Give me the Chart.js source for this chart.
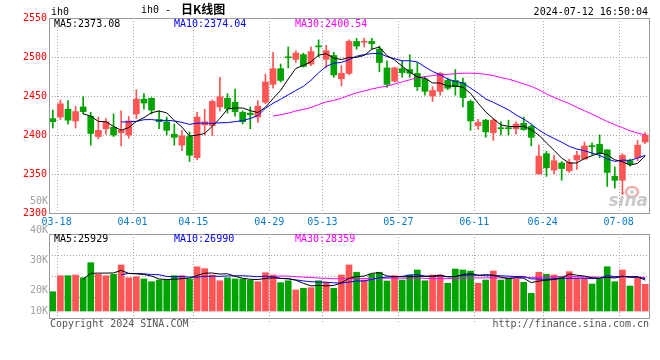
<!DOCTYPE html>
<html><head><meta charset="utf-8">
<script src="https://cdn.jsdelivr.net/npm/chart.js@4.4.1/dist/chart.umd.min.js"></script>
<style>
html,body{margin:0;padding:0;background:#fff;width:660px;height:360px;overflow:hidden}
#pc{position:absolute;left:0;top:0}
#vc{position:absolute;left:0;top:190px}
</style></head><body>
<canvas id="pc" width="660" height="232"></canvas>
<canvas id="vc" width="660" height="170"></canvas>
<script>
// ---------------- data ----------------
const dates = ['03-18','03-19','03-20','03-21','03-22','03-25','03-26','03-27','03-28','03-29',
'04-01','04-02','04-03','04-08','04-09','04-10','04-11','04-12',
'04-15','04-16','04-17','04-18','04-19','04-22','04-23','04-24','04-25','04-26','04-29','04-30',
'05-06','05-07','05-08','05-09','05-10','05-13','05-14','05-15','05-16','05-17','05-20','05-21','05-22','05-23','05-24','05-27','05-28','05-29','05-30','05-31',
'06-03','06-04','06-05','06-06','06-07','06-11','06-12','06-13','06-14','06-17','06-18','06-19','06-20','06-21','06-24','06-25','06-26','06-27','06-28',
'07-01','07-02','07-03','07-04','07-05','07-08','07-09','07-10','07-11','07-12'];
const opens = [2421,2423,2433,2418,2436,2424,2398,2408,2410,2403, 2400,2427,2446,2447,2420,2417,2401,2387,2398,2371,
2413,2412,2436,2447,2442,2429,2428,2423,2442,2465, 2485,2500,2497,2503,2491,2513.5,2497,2502,2472,2479,
2520,2519,2520,2510,2486,2469,2485,2484,2479,2472, 2450,2456,2470,2470,2467,2443,2412,2419,2403,2409,
2408.5,2408,2415,2411,2350,2376,2355,2364,2354,2368, 2369,2385.5,2388,2381,2347,2342,2367,2371,2391];
const highs = [2432,2445,2444,2437,2449,2429,2423,2421,2427,2431, 2424,2458,2453,2448,2431,2423,2414,2406,2404,2429,
2433,2445,2474,2453,2459,2431,2436,2444,2478,2506, 2491,2513,2508,2505,2513,2522,2515,2506,2489,2522,
2524,2524,2524,2514,2495,2487,2495,2503,2493,2475, 2462,2480,2473,2484,2473,2445,2420,2420,2421,2417,
2419,2417,2423,2413,2387,2379,2374,2366,2369,2379, 2391,2390,2400,2381,2359,2376,2369,2393,2403];
const lows = [2409,2420,2414,2409,2427,2387,2395,2401,2398,2386, 2396,2421,2433,2427,2408,2400,2387,2380,2366,2368,
2400,2399,2431,2428,2424,2414,2408,2416,2440,2460, 2468,2486,2493,2487,2489,2500,2486,2474,2463,2477,
2510,2513,2510,2481,2461,2468,2474,2474,2457,2451, 2443,2451,2458,2451,2436,2406,2407,2397,2393,2400,
2400,2401,2406,2386,2350,2347,2350,2342,2352,2356, 2369,2374,2371,2334,2332,2324,2360,2367,2389];
const closes = [2417,2440,2419,2430,2430,2402,2406,2417,2400,2406, 2418,2446,2441,2432,2417,2406,2397,2399,2374,2423,
2417,2443,2449,2434,2430,2417,2426,2437,2468,2485, 2470,2499,2505,2488,2507,2513,2508,2477,2479,2520,
2514,2520,2517,2493,2465,2486,2480,2479,2462,2456, 2457,2479,2460,2462,2448,2418,2416,2404,2419,2408,
2408,2414,2407,2397,2373,2358,2367,2357,2365,2374, 2386,2385,2376,2352,2342,2374,2363,2387,2400];
const volumes = [16100,29500,29500,30100,27800,40400,30700,29500,30700,38500, 27800,28700,26800,24500,25900,25900,29500,29500,26800,37000,
35400,30100,25300,27800,26800,26800,25900,24500,32000,30100, 23700,25300,17600,19000,19500,25300,24000,19000,30100,38500,
32400,25900,30700,32400,25100,29500,25900,30100,34300,25300, 30100,30100,23200,35100,34300,33400,23200,25900,33400,25900,
27300,26800,24000,14800,32400,30700,30100,28700,32900,27300, 27300,22600,26500,37000,24500,34300,20900,27300,22300];
const tickLabels = ['03-18','04-01','04-15','04-29','05-13','05-27','06-11','06-24','07-08'];
const priceTicks = [2300,2350,2400,2450,2500,2550];
const volTickLabels = ['50K','40K','30K','20K','10K'];
const maPeriods = [5,10,30];
const priceMALast = [2373.08, 2374.04, 2400.54];
const volMALast = [25929, 26990, 28359];
const symbol = 'ih0';
const titleCode = 'ih0 -';
const titleText = '日K线图';
const stamp = '2024-07-12 16:50:04';
const copyright = 'Copyright 2024 SINA.COM';
const siteUrl = 'http://finance.sina.com.cn';
const watermark = 'sina';

// ---------------- styles ----------------
const FONT = "'DejaVu Sans Mono','Liberation Mono',monospace";
const UP = '#ff5555', DOWN = '#00a300';
const MA_COLORS = ['#000000','#0000ff','#ff00ff'];
const GRID = '#a8a8a8', BORDER = '#999999';
const tickIdx = tickLabels.map(t => dates.indexOf(t));
const isUp = closes.map((c,i) => c >= opens[i]);
const barColors = isUp.map(u => u ? UP : DOWN);

function movingAverage(arr, n){
  return arr.map((_, i) => i < n-1 ? null : arr.slice(i-n+1, i+1).reduce((a,b)=>a+b,0)/n);
}
function seg(ctx,x1,y1,x2,y2){ctx.beginPath();ctx.moveTo(x1,y1);ctx.lineTo(x2,y2);ctx.stroke();}
function maLine(values, color){
  return {type:'line', data: values.map((v,i)=>({x:i,y:v})), borderColor:color, borderWidth:1,
    pointRadius:0, fill:false, tension:0, spanGaps:false};
}
const xScaleBase = {type:'linear', min:-0.5, max:dates.length-0.5, offset:false};

// ---------------- price chart ----------------
const pricePanel = {
  id:'pricePanel',
  beforeDatasetsDraw(chart){
    const {ctx, chartArea:a, scales:{x,y}} = chart;
    ctx.save();
    // watermark logo + text
    ctx.strokeStyle='rgba(235,150,150,0.75)'; ctx.lineWidth=2.5;
    ctx.beginPath(); ctx.ellipse(a.right-17, a.bottom-21, 6, 5, 0, 0, Math.PI*2); ctx.stroke();
    ctx.fillStyle='rgba(190,190,190,0.8)';
    ctx.beginPath(); ctx.arc(a.right-17, a.bottom-21, 2, 0, Math.PI*2); ctx.fill();
    ctx.font = "italic bold 17px 'DejaVu Sans',sans-serif";
    ctx.fillStyle = 'rgba(195,195,195,0.9)'; ctx.textAlign='right'; ctx.textBaseline='alphabetic';
    ctx.fillText(watermark, a.right-1, a.bottom-7);
    ctx.strokeStyle = GRID; ctx.lineWidth = 1; ctx.setLineDash([1,2]);
    priceTicks.slice(1,-1).forEach(v => { const py = Math.round(y.getPixelForValue(v))+0.5; seg(ctx,a.left,py,a.right,py); });
    tickIdx.forEach(k => { const px = Math.round(x.getPixelForValue(k+0.5))+0.5; seg(ctx,px,a.top,px,a.bottom); });
    ctx.restore();
  },
  afterDraw(chart){
    const {ctx, chartArea:a} = chart;
    ctx.save();
    ctx.strokeStyle = BORDER; ctx.lineWidth = 1;
    ctx.strokeRect(Math.round(a.left)+0.5, Math.round(a.top)+0.5, Math.round(a.right-a.left), Math.round(a.bottom-a.top));
    ctx.font = '10px '+FONT; ctx.textBaseline='middle'; ctx.textAlign='left';
    const lx = [a.left+5, a.left+125, a.left+246];
    maPeriods.forEach((n,i) => { ctx.fillStyle = MA_COLORS[i]; ctx.fillText('MA'+n+':'+priceMALast[i].toFixed(2), lx[i], a.top+6); });
    ctx.fillStyle = '#000';
    ctx.fillText(symbol, a.left+2, 12);
    ctx.fillText(titleCode, 141, 10);
    ctx.font = "bold 12px 'Noto Sans CJK SC',sans-serif";
    ctx.fillText(titleText, 181, 9);
    ctx.font = '10px '+FONT; ctx.textAlign='right';
    ctx.fillText(stamp, a.right-1, 12);
    ctx.restore();
  }
};

new Chart(document.getElementById('pc'), {
  type:'bar',
  data:{datasets:[
    maLine(movingAverage(closes,5), MA_COLORS[0]),
    maLine(movingAverage(closes,10), MA_COLORS[1]),
    maLine(movingAverage(closes,30), MA_COLORS[2]),
    {data: dates.map((d,i)=>({x:i, y:[opens[i], closes[i]]})), backgroundColor:barColors,
     barThickness:6, minBarLength:1, grouped:false, borderWidth:0},
    {data: dates.map((d,i)=>({x:i, y:[lows[i], highs[i]]})), backgroundColor:barColors,
     barThickness:1, grouped:false, borderWidth:0}
  ]},
  options:{
    responsive:false, animation:false, devicePixelRatio:1, events:[],
    layout:{padding:{top:18, right:11, left:0, bottom:0}},
    plugins:{legend:{display:false}, tooltip:{enabled:false}},
    scales:{
      x:Object.assign({}, xScaleBase, {
        grid:{display:false, drawTicks:false}, border:{display:false},
        afterBuildTicks(s){ s.ticks = tickIdx.map(k=>({value:k+0.5})); },
        afterFit(s){ s.height = 19; },
        ticks:{autoSkip:false, maxRotation:0, padding:3, color:'#0a7ad2', font:{family:FONT, size:10},
          callback:(v,i)=>tickLabels[i]}
      }),
      y:{type:'linear', min:priceTicks[0], max:priceTicks[priceTicks.length-1],
        grid:{display:false, drawTicks:false}, border:{display:false},
        afterBuildTicks(s){ s.ticks = priceTicks.map(v=>({value:v})); },
        afterFit(s){ s.width = 49; },
        ticks:{padding:2, color:'#ff0000', font:{family:FONT, size:10}, callback:v=>String(v)}
      }
    }
  },
  plugins:[pricePanel]
});

// ---------------- volume chart ----------------
const volPanel = {
  id:'volPanel',
  beforeDatasetsDraw(chart){
    const {ctx, chartArea:a, scales:{x}} = chart;
    ctx.save();
    ctx.strokeStyle = GRID; ctx.lineWidth = 1; ctx.setLineDash([1,2]);
    [1,2,3].forEach(i => { const py = Math.round(a.top + (a.bottom-a.top)*i/4)+0.5; seg(ctx,a.left,py,a.right,py); });
    tickIdx.forEach(k => { const px = Math.round(x.getPixelForValue(k+0.5))+0.5; seg(ctx,px,a.top,px,a.bottom+5); });
    ctx.restore();
  },
  afterDraw(chart){
    const {ctx, chartArea:a} = chart;
    ctx.save();
    ctx.strokeStyle = BORDER; ctx.lineWidth = 1;
    ctx.strokeRect(Math.round(a.left)+0.5, Math.round(a.top)+0.5, Math.round(a.right-a.left), Math.round(a.bottom-a.top));
    ctx.font = '10px '+FONT; ctx.textBaseline='middle'; ctx.textAlign='left';
    const lx = [a.left+5, a.left+125, a.left+246];
    maPeriods.forEach((n,i) => { ctx.fillStyle = MA_COLORS[i]; ctx.fillText('MA'+n+':'+volMALast[i], lx[i], a.top+5); });
    ctx.textAlign='right'; ctx.fillStyle = '#a0a0a0';
    const ly = [-33, -4, 26, 56, 77];
    volTickLabels.forEach((t,i) => ctx.fillText(t, a.left-1, a.top+ly[i]));
    ctx.fillStyle = '#555';
    ctx.textAlign='left'; ctx.fillText(copyright, a.left+1, a.bottom+6);
    ctx.textAlign='right'; ctx.fillText(siteUrl, a.right, a.bottom+6);
    ctx.restore();
  }
};

new Chart(document.getElementById('vc'), {
  type:'bar',
  data:{datasets:[
    maLine(movingAverage(volumes,5), MA_COLORS[0]),
    maLine(movingAverage(volumes,10), MA_COLORS[1]),
    maLine(movingAverage(volumes,30), MA_COLORS[2]),
    {data: dates.map((d,i)=>({x:i, y:volumes[i]})), backgroundColor:barColors, barThickness:6, borderWidth:0, grouped:false}
  ]},
  options:{
    responsive:false, animation:false, devicePixelRatio:1, events:[],
    layout:{padding:{top:44, right:11, left:49, bottom:42}},
    plugins:{legend:{display:false}, tooltip:{enabled:false}},
    scales:{
      x:Object.assign({}, xScaleBase, {display:false}),
      y:{type:'linear', min:-5850, max:64400, display:false}
    }
  },
  plugins:[volPanel]
});
</script>
</body></html>
